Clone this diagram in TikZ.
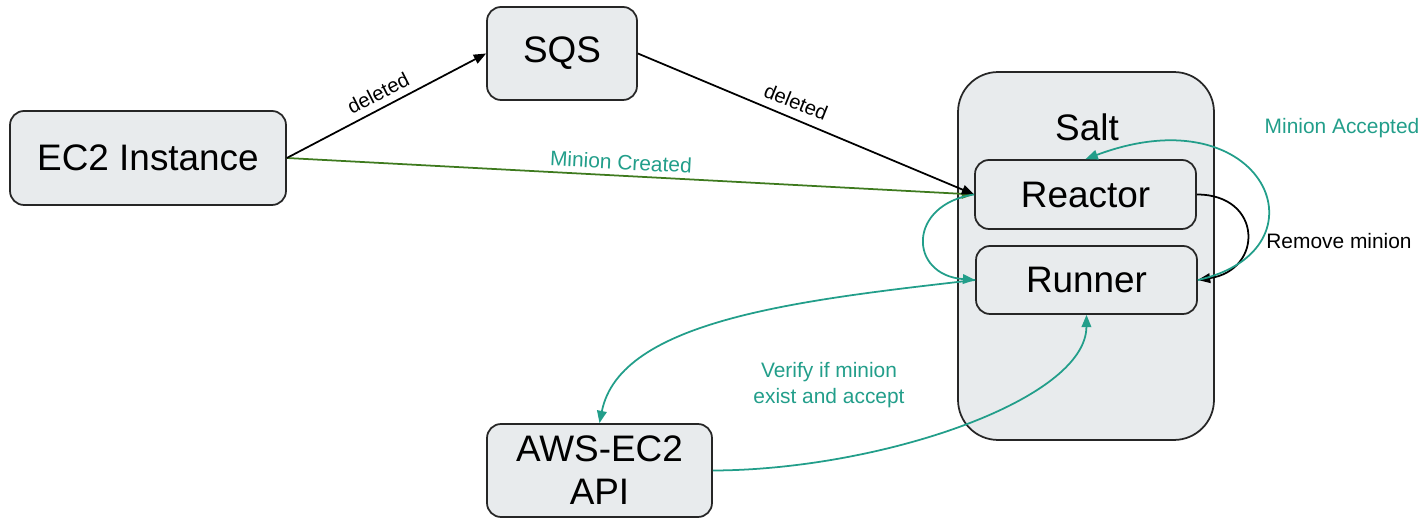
\documentclass[tikz,border=0pt]{standalone}
\usepackage{fontspec}
\setmainfont{Liberation Sans}
\usetikzlibrary{arrows.meta}
\definecolor{boxfill}{RGB}{232,235,237}
\definecolor{tealc}{RGB}{34,158,138}
\definecolor{grn}{RGB}{62,122,30}
\begin{document}
\begin{tikzpicture}[x=0.02cm,y=-0.02cm,
  box/.style={draw=black!85, line width=1pt, fill=boxfill, rounded corners=0.28cm,
    font=\fontsize{21}{24.5}\selectfont, align=center, inner sep=0pt},
  lbl/.style={font=\fontsize{11.9}{14.8}\selectfont, align=center},
  dlbl/.style={font=\fontsize{11.5}{13}\selectfont},
  arr/.style={line width=1pt, -{Triangle[length=7pt,width=5.5pt]}},
]
\useasboundingbox (0,0) rectangle (1426,519);
% boxes
\node[box, rounded corners=0.8cm, minimum width=5.12cm, minimum height=7.36cm] (salt) at (1086,256) {};
\node[font=\fontsize{21}{24.5}\selectfont] (saltlbl) at (1087,127) {Salt};
\node[box, minimum width=5.52cm, minimum height=1.88cm] (ec2) at (148,158) {EC2 Instance};
\node[box, minimum width=3.0cm, minimum height=1.86cm] (sqs) at (562,53.5) {SQS};
\node[box, minimum width=4.42cm, minimum height=1.38cm] (reactor) at (1085.5,194.5) {Reactor};
\node[box, minimum width=4.42cm, minimum height=1.36cm] (runner) at (1086.5,280) {Runner};
\node[box, minimum width=4.5cm, minimum height=1.86cm] (aws) at (599.5,470.5) {AWS-EC2\\API};
% connectors
\draw[arr, grn] (ec2.east) -- (reactor.west);
\draw[arr] (ec2.east) -- (sqs.west);
\draw[arr] (sqs.east) -- (reactor.west);
\draw[arr, tealc] (reactor.west) .. controls +(-67,10) and +(-67,-5) .. (runner.west);
\draw[arr, tealc] (runner.west) .. controls (800,300) and (620,320) .. (aws.north);
\draw[arr, tealc] (aws.east) .. controls (880,470) and (1086,400) .. (runner.south);
\draw[arr] (reactor.east) .. controls +(66,0) and +(66,-10) .. (runner.east);
\draw[arr, tealc] (runner.east) .. controls (1332,250) and (1265,92) .. (reactor.north);
% labels
\node[dlbl, rotate=27] (l1) at (378,93) {deleted};
\node[dlbl, rotate=-22] (l2) at (796,102) {deleted};
\node[lbl, text=tealc, rotate=-3] (l3) at (621,162) {Minion Created};
\node[lbl, text=tealc] (l4) at (1342,128) {Minion Accepted};
\node[lbl] (l5) at (1339,241) {Remove minion};
\node[lbl, text=tealc] (l6) at (829,385) {Verify if minion\\exist and accept};
\end{tikzpicture}
\end{document}
